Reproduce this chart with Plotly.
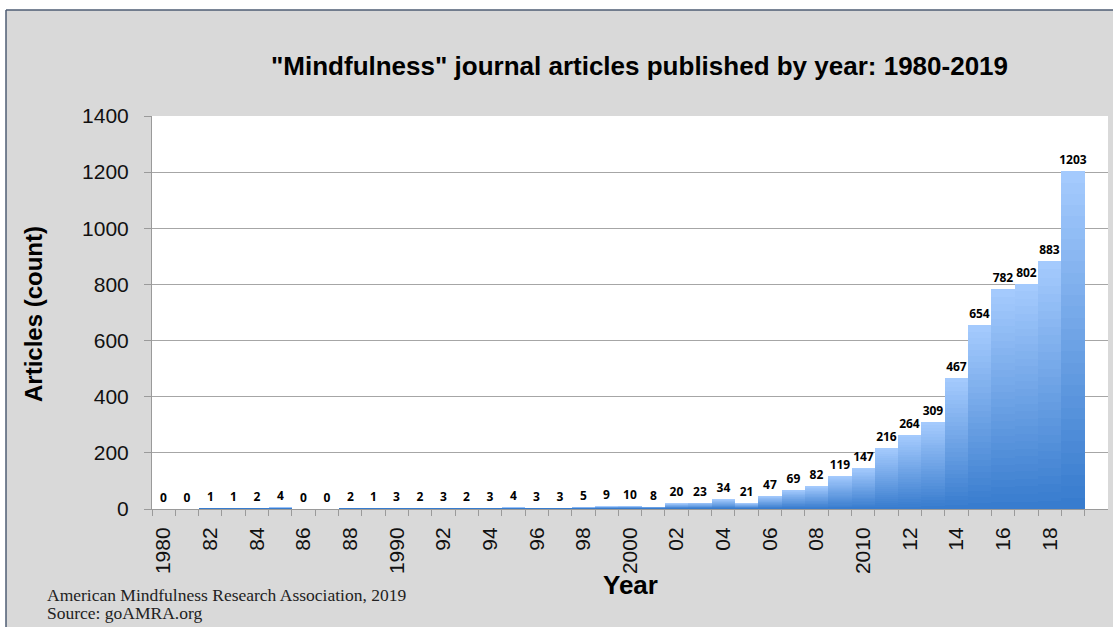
import plotly.graph_objects as go

years = [str(y) for y in range(1980, 2020)]
articles = [0, 0, 1, 1, 2, 4, 0, 0, 2, 1,
            3, 2, 3, 2, 3, 4, 3, 3, 5, 9,
            10, 8, 20, 23, 34, 21, 47, 69, 82, 119,
            147, 216, 264, 309, 467, 654, 782, 802, 883, 1203]
tick_text = [("1980" if y == "1980" else "1990" if y == "1990" else "2000" if y == "2000"
              else "2010" if y == "2010" else y[2:]) if int(y) % 2 == 0 else "" for y in years]

title = '"Mindfulness" journal articles published by year: 1980-2019'
y_title = "Articles (count)"
x_title = "Year"
footer = ["American Mindfulness Research Association, 2019", "Source: goAMRA.org"]

# layout geometry (pixels)
W, H = 1113, 627
L, R, T, B = 152, 5, 116, 118
PW, PH = W - L - R, H - T - B

def px(x):
    return (x - L) / PW

def py(y):
    return (H - B - y) / PH

light = (164, 202, 253)
dark = (56, 124, 206)
N = 30

fig = go.Figure()
for k in range(N):
    t = k / (N - 1)
    c = tuple(round(light[i] + (dark[i] - light[i]) * t) for i in range(3))
    frac = 1 - k / N
    fig.add_trace(go.Bar(
        x=years, y=[v * frac for v in articles],
        marker=dict(color="rgb(%d,%d,%d)" % c, line=dict(width=0)),
        text=[str(v) for v in articles] if k == 0 else None,
        textposition="outside" if k == 0 else "none",
        textfont=dict(family="Open Sans", size=12, color="black", weight="bold"),
        constraintext="none", cliponaxis=False,
        hoverinfo="skip", showlegend=False,
    ))

fig.update_layout(
    width=W, height=H,
    margin=dict(l=L, r=R, t=T, b=B),
    barmode="overlay", bargap=0,
    paper_bgcolor="#d9d9d9", plot_bgcolor="white",
    font=dict(family="Liberation Sans", color="black"),
    xaxis=dict(
        type="category", range=[-0.5, 40.5],
        tickmode="array", tickvals=years, ticktext=tick_text,
        tickangle=-90, tickfont=dict(size=21, color="#111"),
        tickson="boundaries", ticks="outside", ticklen=6, tickcolor="#9a9a9a",
        showline=True, linecolor="#9a9a9a", linewidth=1,
        showgrid=False, ticklabelstandoff=9,
    ),
    yaxis=dict(
        range=[0, 1400], tickvals=[0, 200, 400, 600, 800, 1000, 1200, 1400],
        tickfont=dict(size=21, color="#111"),
        ticks="outside", ticklen=7, tickcolor="#9a9a9a",
        showline=True, linecolor="#9a9a9a", linewidth=1,
        showgrid=True, gridcolor="#a6a6a6", gridwidth=1,
        zeroline=False, ticklabelstandoff=11,
    ),
    shapes=[
        dict(type="rect", xref="paper", yref="paper", x0=px(-10), x1=px(6), y0=py(H + 10), y1=py(-10),
             fillcolor="white", line=dict(width=0), layer="above"),
        dict(type="rect", xref="paper", yref="paper", x0=px(-10), x1=px(W + 10), y0=py(10), y1=py(-10),
             fillcolor="white", line=dict(width=0), layer="above"),
        dict(type="line", xref="paper", yref="paper", x0=px(6), x1=px(6), y0=py(10), y1=py(H + 10),
             line=dict(color="#4e5d73", width=1.5), layer="above"),
        dict(type="line", xref="paper", yref="paper", x0=px(6), x1=px(W + 10), y0=py(10), y1=py(10),
             line=dict(color="#4e5d73", width=1.5), layer="above"),
    ],
    annotations=[
        dict(text="<b>%s</b>" % title, xref="paper", yref="paper", x=px(639), y=py(66),
             xanchor="center", yanchor="middle", showarrow=False, font=dict(size=26, color="black")),
        dict(text="<b>%s</b>" % y_title, xref="paper", yref="paper", x=px(33), y=py(314),
             xanchor="center", yanchor="middle", textangle=-90, showarrow=False,
             font=dict(size=24, color="black")),
        dict(text="<b>%s</b>" % x_title, xref="paper", yref="paper", x=px(630), y=py(585),
             xanchor="center", yanchor="middle", showarrow=False, font=dict(size=26, color="black")),
        dict(text=footer[0], xref="paper", yref="paper", x=px(45), y=py(595),
             xanchor="left", yanchor="middle", showarrow=False,
             font=dict(family="Liberation Serif", size=17.5, color="#222")),
        dict(text=footer[1], xref="paper", yref="paper", x=px(45), y=py(613),
             xanchor="left", yanchor="middle", showarrow=False,
             font=dict(family="Liberation Serif", size=17.5, color="#222")),
    ],
)

fig.write_html("out.html")
